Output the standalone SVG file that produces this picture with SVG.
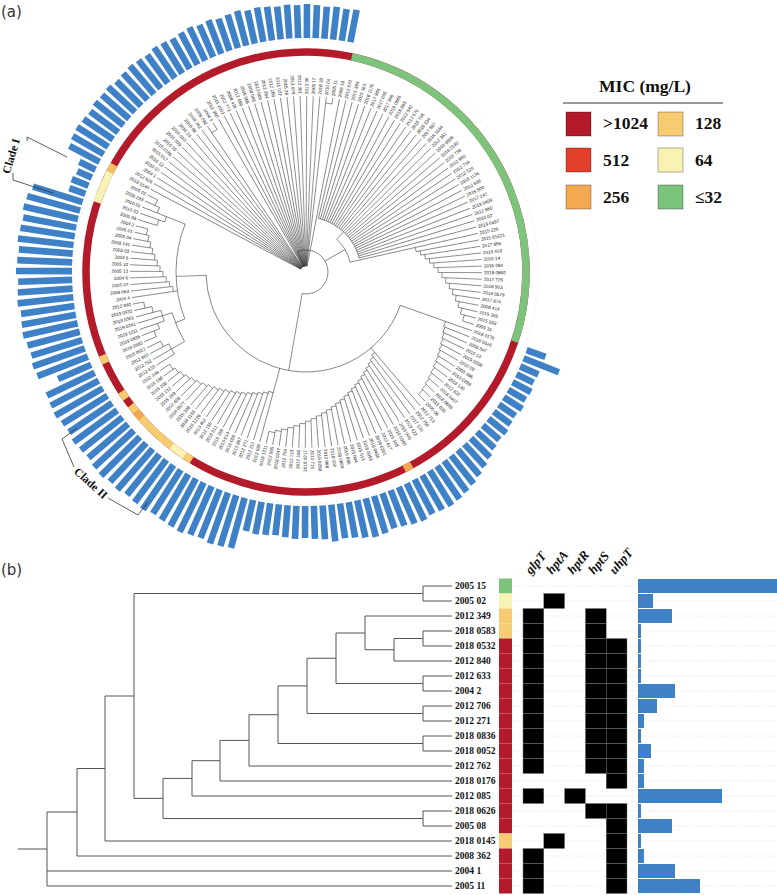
<svg xmlns="http://www.w3.org/2000/svg" width="777" height="895" viewBox="0 0 777 895">
<style>
.pa path,.pa circle.t{fill:none;stroke:#3a3a3a;stroke-width:.55}
.lf text{font-family:'Liberation Sans',Arial,sans-serif;font-size:4.6px;fill:#222;dominant-baseline:central}
.lf text.f{text-anchor:end}
.lf rect{fill:#3f81c7}
.ring{fill:none;stroke-width:7.5}
.tb{fill:none;stroke:#555;stroke-width:1}
.lb{font-family:'Liberation Serif','Times New Roman',serif;font-weight:bold;font-size:9.5px;fill:#111}
.mx{fill:#000;stroke:#777;stroke-width:.4}
.bb{fill:#3f81c7}
.hd{font-family:'Liberation Serif','Times New Roman',serif;font-weight:bold;font-style:italic;font-size:13px;fill:#111}
.lg{font-family:'Liberation Serif','Times New Roman',serif;font-weight:bold;font-size:17.5px;fill:#111}
.pl{font-family:'DejaVu Sans',sans-serif;font-size:15px;fill:#333}
.cl{font-family:'Liberation Serif','Times New Roman',serif;font-weight:bold;font-size:11.5px;fill:#111}
.br{fill:none;stroke:#333;stroke-width:.8}
.sw{stroke:rgba(0,0,0,.3);stroke-width:1}
.gd{stroke:#d8d8d8;stroke-width:.6;stroke-dasharray:1.5 1.5}
</style>
<rect width="777" height="895" fill="#fff"/>
<text class="pl" x="1" y="17">(a)</text>
<text class="pl" x="1" y="575">(b)</text>

<g id="panel-a" class="pa" transform="translate(306 272)">
<circle r="232" fill="none" stroke="#e6e6e6" stroke-width=".7" stroke-dasharray="2 2"/>
<g id="mic-ring">
<circle class="ring" r="220" stroke="#b31b2b"/>
<circle class="ring" r="220" stroke="#7cc47c" stroke-dasharray="370.3 2000" transform="rotate(-78)"/>
<circle class="ring" r="220" stroke="#f2a94f" stroke-dasharray="8.5 2000" transform="rotate(61.29)"/>
<circle class="ring" r="220" stroke="#f6cc72" stroke-dasharray="8.5 2000" transform="rotate(121.29)"/>
<circle class="ring" r="220" stroke="#f8f2b3" stroke-dasharray="16.7 2000" transform="rotate(123.43)"/>
<circle class="ring" r="220" stroke="#f6cc72" stroke-dasharray="41.4 2000" transform="rotate(127.71)"/>
<circle class="ring" r="220" stroke="#f2a94f" stroke-dasharray="8.5 2000" transform="rotate(138.43)"/>
<circle class="ring" r="220" stroke="#f6cc72" stroke-dasharray="8.5 2000" transform="rotate(140.57)"/>
<circle class="ring" r="220" stroke="#f6cc72" stroke-dasharray="8.5 2000" transform="rotate(144.86)"/>
<circle class="ring" r="220" stroke="#f6cc72" stroke-dasharray="8.5 2000" transform="rotate(155.57)"/>
<circle class="ring" r="220" stroke="#f8f2b3" stroke-dasharray="33.2 2000" transform="rotate(198.43)"/>
<circle class="ring" r="220" stroke="#f3bf62" stroke-dasharray="8.5 2000" transform="rotate(207)"/>
</g>
<g id="connectors-a">
<circle class="t" r="6" stroke-dasharray="7.63 99" transform="rotate(208.07)"/>
<path transform="rotate(248)" d="M6 0H22"/>
<circle class="t" r="22" stroke-dasharray="81.4 999" transform="rotate(-112)"/>
<path transform="rotate(-30)" d="M22 0H45"/>
<circle class="t" r="45" stroke-dasharray="26.93 999" transform="rotate(-46.93)"/>
<path transform="rotate(-46.93)" d="M45 0H55"/>
<circle class="t" r="55" stroke-dasharray="59.65 999" transform="rotate(-76.93)"/>
<path transform="rotate(100)" d="M22 0H100"/>
<circle class="t" r="100" stroke-dasharray="276.75 999" transform="rotate(19.5)"/>
<path transform="rotate(178.07)" d="M100 0H130"/>
<circle class="t" r="130" stroke-dasharray="97.22 999" transform="rotate(158.79)"/>
<path transform="rotate(158.79)" d="M130 0H140"/>
<circle class="t" r="140" stroke-dasharray="31.42 999" transform="rotate(150.21)"/>
</g>
<g id="leaves-a" class="lf">
<g id="a0" transform="rotate(-76.93)"><path d="M55 0H176"/><text x="178">2012 572</text></g>
<g id="a1" transform="rotate(-74.79)"><path d="M55 0H176"/><text x="178">2015 393</text></g>
<g id="a2" transform="rotate(-72.64)"><path d="M55 0H176"/><text x="178">2015 363</text></g>
<g id="a3" transform="rotate(-70.50)"><path d="M55 0H176"/><text x="178">2018 1176</text></g>
<g id="a4" transform="rotate(-68.36)"><path d="M55 0H176"/><text x="178">2017 989</text></g>
<g id="a5" transform="rotate(-66.21)"><path d="M55 0H176"/><text x="178">2017 085</text></g>
<g id="a6" transform="rotate(-64.07)"><path d="M55 0H176"/><text x="178">2017 986</text></g>
<g id="a7" transform="rotate(-61.93)"><path d="M55 0H176"/><text x="178">2019 0865</text></g>
<g id="a8" transform="rotate(-59.79)"><path d="M55 0H176"/><text x="178">2018 865</text></g>
<g id="a9" transform="rotate(-57.64)"><path d="M55 0H176"/><text x="178">2012 540</text></g>
<g id="a10" transform="rotate(-55.50)"><path d="M55 0H176"/><text x="178">2012 570</text></g>
<g id="a11" transform="rotate(-53.36)"><path d="M55 0H176"/><text x="178">2015 795</text></g>
<g id="a12" transform="rotate(-51.21)"><path d="M55 0H176"/><text x="178">2018 334</text></g>
<g id="a13" transform="rotate(-49.07)"><path d="M55 0H176"/><text x="178">2017 867</text></g>
<g id="a14" transform="rotate(-46.93)"><path d="M55 0H176"/><text x="178">2018 1164</text></g>
<g id="a15" transform="rotate(-44.79)"><path d="M55 0H176"/><text x="178">2012 361</text></g>
<g id="a16" transform="rotate(-42.64)"><path d="M55 0H176"/><text x="178">2018 0808</text></g>
<g id="a17" transform="rotate(-40.50)"><path d="M55 0H176"/><text x="178">2018 0140</text></g>
<g id="a18" transform="rotate(-38.36)"><path d="M55 0H176"/><text x="178">2018 739</text></g>
<g id="a19" transform="rotate(-36.21)"><path d="M55 0H176"/><text x="178">2012 980</text></g>
<g id="a20" transform="rotate(-34.07)"><path d="M55 0H176"/><text x="178">2012 734</text></g>
<g id="a21" transform="rotate(-31.93)"><path d="M55 0H176"/><text x="178">2012 526</text></g>
<g id="a22" transform="rotate(-29.79)"><path d="M55 0H176"/><text x="178">2018 1136</text></g>
<g id="a23" transform="rotate(-27.64)"><path d="M55 0H176"/><text x="178">2012 608</text></g>
<g id="a24" transform="rotate(-25.50)"><path d="M55 0H176"/><text x="178">2015 500</text></g>
<g id="a25" transform="rotate(-23.36)"><path d="M55 0H176"/><text x="178">2017 247</text></g>
<g id="a26" transform="rotate(-21.21)"><path d="M55 0H176"/><text x="178">2019 0409</text></g>
<g id="a27" transform="rotate(-19.07)"><path d="M55 0H176"/><text x="178">2012 860</text></g>
<g id="a28" transform="rotate(-16.93)"><path d="M55 0H176"/><text x="178">2010 02</text></g>
<g id="a29" transform="rotate(-14.79)"><path d="M55 0H176"/><text x="178">2019 0497</text></g>
<g id="a30" transform="rotate(-12.64)"><path d="M45 0H176"/><text x="178">2015 226</text></g>
<g id="a31" transform="rotate(-10.50)"><path d="M112 -4.2V0H176"/><text x="178">2015 01621</text></g>
<g id="a32" transform="rotate(-8.36)"><path d="M116 -4.3V0H176"/><text x="178">2017 856</text></g>
<g id="a33" transform="rotate(-6.21)"><path d="M120 -4.5V0H176"/><text x="178">2015 418</text></g>
<g id="a34" transform="rotate(-4.07)"><path d="M124 -4.6V0H176"/><text x="178">2010 14</text></g>
<g id="a35" transform="rotate(-1.93)"><path d="M128 -4.8V0H176"/><text x="178">2016 084</text></g>
<g id="a36" transform="rotate(0.21)"><path d="M132 -4.9V0H176"/><text x="178">2018 0860</text></g>
<g id="a37" transform="rotate(2.36)"><path d="M136 -5.1V0H176"/><text x="178">2017 726</text></g>
<g id="a38" transform="rotate(4.50)"><path d="M140 -5.2V0H176"/><text x="178">2018 903</text></g>
<g id="a39" transform="rotate(6.64)"><path d="M144 -5.4V0H176"/><text x="178">2019 0579</text></g>
<g id="a40" transform="rotate(8.79)"><path d="M148 -5.5V0H176"/><text x="178">2017 874</text></g>
<g id="a41" transform="rotate(10.93)"><path d="M152 -5.7V0H176"/><text x="178">2008 414</text></g>
<g id="a42" transform="rotate(13.07)"><path d="M156 -5.8V0H176"/><text x="178">2015 365</text></g>
<g id="a43" transform="rotate(15.21)"><path d="M160 -6V0H176"/><text x="178">2015 333</text></g>
<g id="a44" transform="rotate(17.36)"><path d="M164 -6.1V0H176"/><text x="178">2005 15</text></g>
<g id="a45" transform="rotate(19.50)"><path d="M100 0H176"/><text x="178">2018 0176</text><rect x="234" y="-3.3" width="20" height="6.6"/></g>
<g id="a46" transform="rotate(21.64)"><path d="M148 -5.5V0H176"/><text x="178">2018 0626</text><rect x="234" y="-3.3" width="38" height="6.6"/></g>
<g id="a47" transform="rotate(23.79)"><path d="M149.5 -5.6V0H176"/><text x="178">2008 347</text><rect x="234" y="-3.3" width="20" height="6.6"/></g>
<g id="a48" transform="rotate(25.93)"><path d="M151 -5.6V0H176"/><text x="178">2010 13</text><rect x="234" y="-3.3" width="19" height="6.6"/></g>
<g id="a49" transform="rotate(28.07)"><path d="M152.5 -5.7V0H176"/><text x="178">2019 0306</text><rect x="234" y="-3.3" width="21" height="6.6"/></g>
<g id="a50" transform="rotate(30.21)"><path d="M154 -5.8V0H176"/><text x="178">2010 09</text><rect x="234" y="-3.3" width="20" height="6.6"/></g>
<g id="a51" transform="rotate(32.36)"><path d="M155.5 -5.8V0H176"/><text x="178">2009 486</text><rect x="234" y="-3.3" width="22" height="6.6"/></g>
<g id="a52" transform="rotate(34.50)"><path d="M157 -5.9V0H176"/><text x="178">2010 0289</text><rect x="234" y="-3.3" width="20" height="6.6"/></g>
<g id="a53" transform="rotate(36.64)"><path d="M158.5 -5.9V0H176"/><text x="178">2019 130</text><rect x="234" y="-3.3" width="21" height="6.6"/></g>
<g id="a54" transform="rotate(38.79)"><path d="M160 -6V0H176"/><text x="178">2012 632</text><rect x="234" y="-3.3" width="23" height="6.6"/></g>
<g id="a55" transform="rotate(40.93)"><path d="M161.5 -6V0H176"/><text x="178">2018 0407</text><rect x="234" y="-3.3" width="22" height="6.6"/></g>
<g id="a56" transform="rotate(43.07)"><path d="M163 -6.1V0H176"/><text x="178">2018 0609</text><rect x="234" y="-3.3" width="24" height="6.6"/></g>
<g id="a57" transform="rotate(45.21)"><path d="M164.5 -6.2V0H176"/><text x="178">2015 030</text><rect x="234" y="-3.3" width="27" height="6.6"/></g>
<g id="a58" transform="rotate(47.36)"><path d="M166 -6.2V0H176"/><text x="178">2005 08</text><rect x="234" y="-3.3" width="30" height="6.6"/></g>
<g id="a59" transform="rotate(49.50)"><path d="M100 0H176"/><text x="178">2012 713</text><rect x="234" y="-3.3" width="33" height="6.6"/></g>
<g id="a60" transform="rotate(51.64)"><path d="M106 -4V0H176"/><text x="178">2012 702</text><rect x="234" y="-3.3" width="36" height="6.6"/></g>
<g id="a61" transform="rotate(53.79)"><path d="M108.4 -4.1V0H176"/><text x="178">2017 130</text><rect x="234" y="-3.3" width="38" height="6.6"/></g>
<g id="a62" transform="rotate(55.93)"><path d="M110.8 -4.1V0H176"/><text x="178">2019 422</text><rect x="234" y="-3.3" width="40" height="6.6"/></g>
<g id="a63" transform="rotate(58.07)"><path d="M113.2 -4.2V0H176"/><text x="178">2015 006</text><rect x="234" y="-3.3" width="41" height="6.6"/></g>
<g id="a64" transform="rotate(60.21)"><path d="M115.6 -4.3V0H176"/><text x="178">2019 0360</text><rect x="234" y="-3.3" width="40" height="6.6"/></g>
<g id="a65" transform="rotate(62.36)"><path d="M118 -4.4V0H176"/><text x="178">2015 168</text><rect x="234" y="-3.3" width="39" height="6.6"/></g>
<g id="a66" transform="rotate(64.50)"><path d="M120.4 -4.5V0H176"/><text x="178">2012 617</text><rect x="234" y="-3.3" width="41" height="6.6"/></g>
<g id="a67" transform="rotate(66.64)"><path d="M122.8 -4.6V0H176"/><text x="178">2019 0201</text><rect x="234" y="-3.3" width="40" height="6.6"/></g>
<g id="a68" transform="rotate(68.79)"><path d="M125.2 -4.7V0H176"/><text x="178">2018 0466</text><rect x="234" y="-3.3" width="38" height="6.6"/></g>
<g id="a69" transform="rotate(70.93)"><path d="M127.6 -4.8V0H176"/><text x="178">2018 0093</text><rect x="234" y="-3.3" width="37" height="6.6"/></g>
<g id="a70" transform="rotate(73.07)"><path d="M130 -4.9V0H176"/><text x="178">2015 013</text><rect x="234" y="-3.3" width="39" height="6.6"/></g>
<g id="a71" transform="rotate(75.21)"><path d="M132.4 -5V0H176"/><text x="178">2015 004</text><rect x="234" y="-3.3" width="40" height="6.6"/></g>
<g id="a72" transform="rotate(77.36)"><path d="M134.8 -5V0H176"/><text x="178">2015 096</text><rect x="234" y="-3.3" width="38" height="6.6"/></g>
<g id="a73" transform="rotate(79.50)"><path d="M137.2 -5.1V0H176"/><text x="178">2018 0869</text><rect x="234" y="-3.3" width="36" height="6.6"/></g>
<g id="a74" transform="rotate(81.64)"><path d="M139.6 -5.2V0H176"/><text x="178">2018 007</text><rect x="234" y="-3.3" width="35" height="6.6"/></g>
<g id="a75" transform="rotate(83.79)"><path d="M142 -5.3V0H176"/><text x="178">2012 868</text><rect x="234" y="-3.3" width="37" height="6.6"/></g>
<g id="a76" transform="rotate(85.93)"><path d="M144.4 -5.4V0H176"/><text x="178">2019 0280</text><rect x="234" y="-3.3" width="34" height="6.6"/></g>
<g id="a77" transform="rotate(88.07)"><path d="M146.8 -5.5V0H176"/><text x="178">2012 716</text><rect x="234" y="-3.3" width="33" height="6.6"/></g>
<g id="a78" transform="rotate(90.21)"><path d="M149.2 -5.6V0H176"/><text class="f" x="178" transform="rotate(180 178 0)">2018 0217</text><rect x="234" y="-3.3" width="32" height="6.6"/></g>
<g id="a79" transform="rotate(92.36)"><path d="M151.6 -5.7V0H176"/><text class="f" x="178" transform="rotate(180 178 0)">2017 180</text><rect x="234" y="-3.3" width="33" height="6.6"/></g>
<g id="a80" transform="rotate(94.50)"><path d="M154 -5.8V0H176"/><text class="f" x="178" transform="rotate(180 178 0)">2012 723</text><rect x="234" y="-3.3" width="32" height="6.6"/></g>
<g id="a81" transform="rotate(96.64)"><path d="M156.4 -5.8V0H176"/><text class="f" x="178" transform="rotate(180 178 0)">2012 764</text><rect x="234" y="-3.3" width="31" height="6.6"/></g>
<g id="a82" transform="rotate(98.79)"><path d="M158.8 -5.9V0H176"/><text class="f" x="178" transform="rotate(180 178 0)">2018 0247</text><rect x="234" y="-3.3" width="32" height="6.6"/></g>
<g id="a83" transform="rotate(100.93)"><path d="M161.2 -6V0H176"/><text class="f" x="178" transform="rotate(180 178 0)">2012 565</text><rect x="234" y="-3.3" width="33" height="6.6"/></g>
<g id="a84" transform="rotate(103.07)"><path d="M163.6 -6.1V0H176"/><text class="f" x="178" transform="rotate(180 178 0)">2016 1211</text><rect x="234" y="-3.3" width="32" height="6.6"/></g>
<g id="a85" transform="rotate(105.21)"><path d="M100 0H176"/><text class="f" x="178" transform="rotate(180 178 0)">2012 085</text><rect x="234" y="-3.3" width="52" height="6.6"/></g>
<g id="a86" transform="rotate(107.36)"><path d="M125 -4.7V0H176"/><text class="f" x="178" transform="rotate(180 178 0)">2012 211</text><rect x="234" y="-3.3" width="53" height="6.6"/></g>
<g id="a87" transform="rotate(109.50)"><path d="M127.2 -4.8V0H176"/><text class="f" x="178" transform="rotate(180 178 0)">2012 271</text><rect x="234" y="-3.3" width="54" height="6.6"/></g>
<g id="a88" transform="rotate(111.64)"><path d="M129.4 -4.8V0H176"/><text class="f" x="178" transform="rotate(180 178 0)">2012 867</text><rect x="234" y="-3.3" width="52" height="6.6"/></g>
<g id="a89" transform="rotate(113.79)"><path d="M131.6 -4.9V0H176"/><text class="f" x="178" transform="rotate(180 178 0)">2015 050</text><rect x="234" y="-3.3" width="53" height="6.6"/></g>
<g id="a90" transform="rotate(115.93)"><path d="M133.8 -5V0H176"/><text class="f" x="178" transform="rotate(180 178 0)">2015 014</text><rect x="234" y="-3.3" width="55" height="6.6"/></g>
<g id="a91" transform="rotate(118.07)"><path d="M136 -5.1V0H176"/><text class="f" x="178" transform="rotate(180 178 0)">2015 359</text><rect x="234" y="-3.3" width="54" height="6.6"/></g>
<g id="a92" transform="rotate(120.21)"><path d="M138.2 -5.2V0H176"/><text class="f" x="178" transform="rotate(180 178 0)">2015 011</text><rect x="234" y="-3.3" width="53" height="6.6"/></g>
<g id="a93" transform="rotate(122.36)"><path d="M140.4 -5.3V0H176"/><text class="f" x="178" transform="rotate(180 178 0)">2012 156</text><rect x="234" y="-3.3" width="52" height="6.6"/></g>
<g id="a94" transform="rotate(124.50)"><path d="M142.6 -5.3V0H176"/><text class="f" x="178" transform="rotate(180 178 0)">2013 402</text><rect x="234" y="-3.3" width="54" height="6.6"/></g>
<g id="a95" transform="rotate(126.64)"><path d="M144.8 -5.4V0H176"/><text class="f" x="178" transform="rotate(180 178 0)">2018 1226</text><rect x="234" y="-3.3" width="53" height="6.6"/></g>
<g id="a96" transform="rotate(128.79)"><path d="M147 -5.5V0H176"/><text class="f" x="178" transform="rotate(180 178 0)">2018 1155</text><rect x="234" y="-3.3" width="52" height="6.6"/></g>
<g id="a97" transform="rotate(130.93)"><path d="M149.2 -5.6V0H176"/><text class="f" x="178" transform="rotate(180 178 0)">2015 269</text><rect x="234" y="-3.3" width="54" height="6.6"/></g>
<g id="a98" transform="rotate(133.07)"><path d="M151.4 -5.7V0H176"/><text class="f" x="178" transform="rotate(180 178 0)">2018 0577</text><rect x="234" y="-3.3" width="53" height="6.6"/></g>
<g id="a99" transform="rotate(135.21)"><path d="M153.6 -5.7V0H176"/><text class="f" x="178" transform="rotate(180 178 0)">2012 406</text><rect x="234" y="-3.3" width="55" height="6.6"/></g>
<g id="a100" transform="rotate(137.36)"><path d="M155.8 -5.8V0H176"/><text class="f" x="178" transform="rotate(180 178 0)">2015 289</text><rect x="234" y="-3.3" width="54" height="6.6"/></g>
<g id="a101" transform="rotate(139.50)"><path d="M158 -5.9V0H176"/><text class="f" x="178" transform="rotate(180 178 0)">2015 212</text><rect x="234" y="-3.3" width="52" height="6.6"/></g>
<g id="a102" transform="rotate(141.64)"><path d="M160.2 -6V0H176"/><text class="f" x="178" transform="rotate(180 178 0)">2015 206</text><rect x="234" y="-3.3" width="53" height="6.6"/></g>
<g id="a103" transform="rotate(143.79)"><path d="M162.4 -6.1V0H176"/><text class="f" x="178" transform="rotate(180 178 0)">2015 196</text><rect x="234" y="-3.3" width="54" height="6.6"/></g>
<g id="a104" transform="rotate(145.93)"><path d="M164.6 -6.2V0H176"/><text class="f" x="178" transform="rotate(180 178 0)">2012 349</text><rect x="234" y="-3.3" width="52" height="6.6"/></g>
<g id="a105" transform="rotate(148.07)"><path d="M155 5.8V0H176"/><text class="f" x="178" transform="rotate(180 178 0)">2012 633</text><rect x="234" y="-3.3" width="53" height="6.6"/></g>
<g id="a106" transform="rotate(150.21)"><path d="M140 0H176"/><text class="f" x="178" transform="rotate(180 178 0)">2012 762</text><rect x="234" y="-3.3" width="55" height="6.6"/></g>
<g id="a107" transform="rotate(152.36)"><path d="M155 -5.8V0H176"/><text class="f" x="178" transform="rotate(180 178 0)">2012 803</text><rect x="234" y="-3.3" width="54" height="6.6"/></g>
<g id="a108" transform="rotate(154.50)"><path d="M161 -6V0H176"/><text class="f" x="178" transform="rotate(180 178 0)">2018 0022</text><rect x="234" y="-3.3" width="53" height="6.6"/></g>
<g id="a109" transform="rotate(156.64)"><path d="M163 6.1V0H176"/><text class="f" x="178" transform="rotate(180 178 0)">2018 0583</text><rect x="234" y="-3.3" width="36" height="6.6"/></g>
<g id="a110" transform="rotate(158.79)"><path d="M157 5.9V0H176"/><text class="f" x="178" transform="rotate(180 178 0)">2019 0836</text><rect x="234" y="-3.3" width="54" height="6.6"/></g>
<g id="a111" transform="rotate(160.93)"><path d="M150 5.6V0H176"/><text class="f" x="178" transform="rotate(180 178 0)">2019 0111</text><rect x="234" y="-3.3" width="55" height="6.6"/></g>
<g id="a112" transform="rotate(163.07)"><path d="M140 0H176"/><text class="f" x="178" transform="rotate(180 178 0)">2019 0241</text><rect x="234" y="-3.3" width="53" height="6.6"/></g>
<g id="a113" transform="rotate(165.21)"><path d="M150 -5.6V0H176"/><text class="f" x="178" transform="rotate(180 178 0)">2018 0301</text><rect x="234" y="-3.3" width="54" height="6.6"/></g>
<g id="a114" transform="rotate(167.36)"><path d="M158 -5.9V0H176"/><text class="f" x="178" transform="rotate(180 178 0)">2019 0832</text><rect x="234" y="-3.3" width="56" height="6.6"/></g>
<g id="a115" transform="rotate(169.50)"><path d="M165 -6.2V0H176"/><text class="f" x="178" transform="rotate(180 178 0)">2012 840</text><rect x="234" y="-3.3" width="55" height="6.6"/></g>
<g id="a116" transform="rotate(171.64)"><path d="M130 0H176"/><text class="f" x="178" transform="rotate(180 178 0)">2004 4</text><rect x="234" y="-3.3" width="54" height="6.6"/></g>
<g id="a117" transform="rotate(173.79)"><path d="M134 -5V0H176"/><text class="f" x="178" transform="rotate(180 178 0)">2009 063</text><rect x="234" y="-3.3" width="56" height="6.6"/></g>
<g id="a118" transform="rotate(175.93)"><path d="M137 -5.1V0H176"/><text class="f" x="178" transform="rotate(180 178 0)">2005 07</text><rect x="234" y="-3.3" width="55" height="6.6"/></g>
<g id="a119" transform="rotate(178.07)"><path d="M140 -5.2V0H176"/><text class="f" x="178" transform="rotate(180 178 0)">2004 6</text><rect x="234" y="-3.3" width="54" height="6.6"/></g>
<g id="a120" transform="rotate(180.21)"><path d="M143 -5.3V0H176"/><text class="f" x="178" transform="rotate(180 178 0)">2005 13</text><rect x="234" y="-3.3" width="56" height="6.6"/></g>
<g id="a121" transform="rotate(182.36)"><path d="M146 -5.5V0H176"/><text class="f" x="178" transform="rotate(180 178 0)">2005 10</text><rect x="234" y="-3.3" width="55" height="6.6"/></g>
<g id="a122" transform="rotate(184.50)"><path d="M149 -5.6V0H176"/><text class="f" x="178" transform="rotate(180 178 0)">2004 5</text><rect x="234" y="-3.3" width="54" height="6.6"/></g>
<g id="a123" transform="rotate(186.64)"><path d="M152 -5.7V0H176"/><text class="f" x="178" transform="rotate(180 178 0)">2005 03</text><rect x="234" y="-3.3" width="56" height="6.6"/></g>
<g id="a124" transform="rotate(188.79)"><path d="M155 -5.8V0H176"/><text class="f" x="178" transform="rotate(180 178 0)">2008 141</text><rect x="234" y="-3.3" width="55" height="6.6"/></g>
<g id="a125" transform="rotate(190.93)"><path d="M158 -5.9V0H176"/><text class="f" x="178" transform="rotate(180 178 0)">2005 04</text><rect x="234" y="-3.3" width="54" height="6.6"/></g>
<g id="a126" transform="rotate(193.07)"><path d="M161 -6V0H176"/><text class="f" x="178" transform="rotate(180 178 0)">2005 01</text><rect x="234" y="-3.3" width="56" height="6.6"/></g>
<g id="a127" transform="rotate(195.21)"><path d="M164 -6.1V0H176"/><text class="f" x="178" transform="rotate(180 178 0)">2004 2</text><rect x="234" y="-3.3" width="55" height="6.6"/></g>
<g id="a128" transform="rotate(197.36)"><path d="M156 5.8V0H176"/><text class="f" x="178" transform="rotate(180 178 0)">2005 06</text><rect x="234" y="-3.3" width="52" height="6.6"/></g>
<g id="a129" transform="rotate(199.50)"><path d="M150 5.6V0H176"/><text class="f" x="178" transform="rotate(180 178 0)">2010 03</text><rect x="234" y="-3.3" width="17" height="6.6"/></g>
<g id="a130" transform="rotate(201.64)"><path d="M130 0H176"/><text class="f" x="178" transform="rotate(180 178 0)">2010 01</text><rect x="234" y="-3.3" width="18" height="6.6"/></g>
<g id="a131" transform="rotate(203.79)"><path d="M160 -6V0H176"/><text class="f" x="178" transform="rotate(180 178 0)">2008 233</text><rect x="234" y="-3.3" width="16" height="6.6"/></g>
<g id="a132" transform="rotate(205.93)"><path d="M165 -6.2V0H176"/><text class="f" x="178" transform="rotate(180 178 0)">2005 02</text><rect x="234" y="-3.3" width="18" height="6.6"/></g>
<g id="a133" transform="rotate(208.07)"><path d="M6 0H176"/><text class="f" x="178" transform="rotate(180 178 0)">2018 0145</text><rect x="234" y="-3.3" width="34" height="6.6"/></g>
<g id="a134" transform="rotate(210.21)"><path d="M6 0H176"/><text class="f" x="178" transform="rotate(180 178 0)">2012 826</text><rect x="234" y="-3.3" width="36" height="6.6"/></g>
<g id="a135" transform="rotate(212.36)"><path d="M6 0H176"/><text class="f" x="178" transform="rotate(180 178 0)">2004 1</text><rect x="234" y="-3.3" width="37" height="6.6"/></g>
<g id="a136" transform="rotate(214.50)"><path d="M6 0H176"/><text class="f" x="178" transform="rotate(180 178 0)">2010 07</text><rect x="234" y="-3.3" width="36" height="6.6"/></g>
<g id="a137" transform="rotate(216.64)"><path d="M6 0H176"/><text class="f" x="178" transform="rotate(180 178 0)">2010 12</text><rect x="234" y="-3.3" width="35" height="6.6"/></g>
<g id="a138" transform="rotate(218.79)"><path d="M6 0H176"/><text class="f" x="178" transform="rotate(180 178 0)">2015 017</text><rect x="234" y="-3.3" width="37" height="6.6"/></g>
<g id="a139" transform="rotate(220.93)"><path d="M6 0H176"/><text class="f" x="178" transform="rotate(180 178 0)">2015 0186</text><rect x="234" y="-3.3" width="36" height="6.6"/></g>
<g id="a140" transform="rotate(223.07)"><path d="M6 0H176"/><text class="f" x="178" transform="rotate(180 178 0)">2010 10</text><rect x="234" y="-3.3" width="37" height="6.6"/></g>
<g id="a141" transform="rotate(225.21)"><path d="M6 0H176"/><text class="f" x="178" transform="rotate(180 178 0)">2015 509</text><rect x="234" y="-3.3" width="35" height="6.6"/></g>
<g id="a142" transform="rotate(227.36)"><path d="M6 0H176"/><text class="f" x="178" transform="rotate(180 178 0)">2015 010</text><rect x="234" y="-3.3" width="36" height="6.6"/></g>
<g id="a143" transform="rotate(229.50)"><path d="M6 0H176"/><text class="f" x="178" transform="rotate(180 178 0)">2010 23</text><rect x="234" y="-3.3" width="37" height="6.6"/></g>
<g id="a144" transform="rotate(231.64)"><path d="M6 0H176"/><text class="f" x="178" transform="rotate(180 178 0)">2010 08</text><rect x="234" y="-3.3" width="36" height="6.6"/></g>
<g id="a145" transform="rotate(233.79)"><path d="M6 0H176"/><text class="f" x="178" transform="rotate(180 178 0)">2008 362</text><rect x="234" y="-3.3" width="35" height="6.6"/></g>
<g id="a146" transform="rotate(235.93)"><path d="M6 0H176"/><text class="f" x="178" transform="rotate(180 178 0)">2008 082</text><rect x="234" y="-3.3" width="37" height="6.6"/></g>
<g id="a147" transform="rotate(238.07)"><path d="M168 -6.3V0H176"/><text class="f" x="178" transform="rotate(180 178 0)">2004 3</text><rect x="234" y="-3.3" width="36" height="6.6"/></g>
<g id="a148" transform="rotate(240.21)"><path d="M6 0H176"/><text class="f" x="178" transform="rotate(180 178 0)">2012 360</text><rect x="234" y="-3.3" width="35" height="6.6"/></g>
<g id="a149" transform="rotate(242.36)"><path d="M6 0H176"/><text class="f" x="178" transform="rotate(180 178 0)">2015 1001</text><rect x="234" y="-3.3" width="36" height="6.6"/></g>
<g id="a150" transform="rotate(244.50)"><path d="M6 0H176"/><text class="f" x="178" transform="rotate(180 178 0)">2012 773</text><rect x="234" y="-3.3" width="37" height="6.6"/></g>
<g id="a151" transform="rotate(246.64)"><path d="M6 0H176"/><text class="f" x="178" transform="rotate(180 178 0)">2008 416</text><rect x="234" y="-3.3" width="35" height="6.6"/></g>
<g id="a152" transform="rotate(248.79)"><path d="M6 0H176"/><text class="f" x="178" transform="rotate(180 178 0)">2012 080</text><rect x="234" y="-3.3" width="36" height="6.6"/></g>
<g id="a153" transform="rotate(250.93)"><path d="M6 0H176"/><text class="f" x="178" transform="rotate(180 178 0)">2009 066</text><rect x="234" y="-3.3" width="34" height="6.6"/></g>
<g id="a154" transform="rotate(253.07)"><path d="M6 0H176"/><text class="f" x="178" transform="rotate(180 178 0)">2009 068</text><rect x="234" y="-3.3" width="35" height="6.6"/></g>
<g id="a155" transform="rotate(255.21)"><path d="M6 0H176"/><text class="f" x="178" transform="rotate(180 178 0)">2013 008</text><rect x="234" y="-3.3" width="36" height="6.6"/></g>
<g id="a156" transform="rotate(257.36)"><path d="M6 0H176"/><text class="f" x="178" transform="rotate(180 178 0)">2012 284</text><rect x="234" y="-3.3" width="34" height="6.6"/></g>
<g id="a157" transform="rotate(259.50)"><path d="M6 0H176"/><text class="f" x="178" transform="rotate(180 178 0)">2012 289</text><rect x="234" y="-3.3" width="35" height="6.6"/></g>
<g id="a158" transform="rotate(261.64)"><path d="M6 0H176"/><text class="f" x="178" transform="rotate(180 178 0)">2015 027</text><rect x="234" y="-3.3" width="34" height="6.6"/></g>
<g id="a159" transform="rotate(263.79)"><path d="M6 0H176"/><text class="f" x="178" transform="rotate(180 178 0)">2015 26</text><rect x="234" y="-3.3" width="33" height="6.6"/></g>
<g id="a160" transform="rotate(265.93)"><path d="M6 0H176"/><text class="f" x="178" transform="rotate(180 178 0)">2013 079</text><rect x="234" y="-3.3" width="34" height="6.6"/></g>
<g id="a161" transform="rotate(268.07)"><path d="M6 0H176"/><text class="f" x="178" transform="rotate(180 178 0)">2012 301</text><rect x="234" y="-3.3" width="33" height="6.6"/></g>
<g id="a162" transform="rotate(270.21)"><path d="M6 0H176"/><text x="178">2013 06</text><rect x="234" y="-3.3" width="34" height="6.6"/></g>
<g id="a163" transform="rotate(272.36)"><path d="M6 0H176"/><text x="178">2005 17</text><rect x="234" y="-3.3" width="33" height="6.6"/></g>
<g id="a164" transform="rotate(274.50)"><path d="M6 0H176"/><text x="178">2018 18</text><rect x="234" y="-3.3" width="32" height="6.6"/></g>
<g id="a165" transform="rotate(276.64)"><path d="M6 0H176"/><text x="178">2010 04</text><rect x="234" y="-3.3" width="33" height="6.6"/></g>
<g id="a166" transform="rotate(278.79)"><path d="M170 -6.4V0H176"/><text x="178">2005 11</text><rect x="234" y="-3.3" width="32" height="6.6"/></g>
<g id="a167" transform="rotate(280.93)"><path d="M6 0H176"/><text x="178">2005 16</text><rect x="234" y="-3.3" width="33" height="6.6"/></g>
</g>
</g>

<g id="clade-I">
<path class="br" d="M67 157L27 137L27 141M13 173L13 180L53 193"/>
<text class="cl" text-anchor="middle" dominant-baseline="central" transform="translate(11 156) rotate(-73)">Clade I</text>
</g>
<g id="clade-II">
<path class="br" d="M77 428L62 439L74 467M108 498L138 515L148 502"/>
<text class="cl" text-anchor="middle" dominant-baseline="central" transform="translate(91 483) rotate(42)">Clade II</text>
</g>

<g id="legend">
<text class="lg" x="645" y="92" text-anchor="middle" font-size="18">MIC (mg/L)</text>
<path d="M563 103H723" stroke="#777" stroke-width="1.3"/>
<rect class="sw" x="566" y="112" width="25" height="24" fill="#b31b2b"/>
<rect class="sw" x="566" y="148" width="25" height="24" fill="#e2402a"/>
<rect class="sw" x="566" y="185" width="25" height="24" fill="#f2a94f"/>
<rect class="sw" x="658" y="112" width="25" height="24" fill="#f6cc72"/>
<rect class="sw" x="658" y="148" width="25" height="24" fill="#f8f2b3"/>
<rect class="sw" x="658" y="185" width="25" height="24" fill="#7cc47c"/>
<text class="lg" x="603" y="129">&gt;1024</text>
<text class="lg" x="603" y="166">512</text>
<text class="lg" x="603" y="203">256</text>
<text class="lg" x="695" y="129">128</text>
<text class="lg" x="695" y="166">64</text>
<text class="lg" x="695" y="203">≤32</text>
</g>

<g id="headers-b">
<text class="hd" transform="translate(531 575) rotate(-50)">glpT</text>
<text class="hd" transform="translate(552 575) rotate(-50)">hptA</text>
<text class="hd" transform="translate(573 575) rotate(-50)">hptR</text>
<text class="hd" transform="translate(594 575) rotate(-50)">hptS</text>
<text class="hd" transform="translate(615 575) rotate(-50)">uhpT</text>
</g>

<g id="guides-b">
<path class="gd" d="M513 586H777M513 601H777M513 616H777M513 631H777M513 646H777M513 661H777M513 676H777M513 691H777M513 706H777M513 721H777M513 736H777M513 751H777M513 766H777M513 781H777M513 796H777M513 811H777M513 826H777M513 841H777M513 856H777M513 871H777M513 886H777"/>
</g>

<g id="connectors-b">
<path class="tb" d="M18 849H47M47 812V886M47 812H77M47 871H452M47 886H452M77 768.5V856M77 768.5H105M77 856H452M105 696V841M105 696H134M105 841H452M134 593.5V798.4M134 593.5H423M134 798.4H163M423 586V601M423 586H452M423 601H452M163 778.4V818.5M163 778.4H192M163 818.5H423M423 811V826M423 811H452M423 826H452M192 760.7V796M192 760.7H220M192 796H452M220 740.4V781M220 740.4H249M220 781H452M249 714.7V766M249 714.7H278M249 766H452M278 685.9V743.5M278 685.9H307M278 743.5H423M423 736V751M423 736H452M423 751H452M307 658.25V713.5M307 658.25H336M307 713.5H423M423 706V721M423 706H452M423 721H452M336 633V683.5M336 633H365M336 683.5H423M423 676V691M423 676H452M423 691H452M365 616V649.75M365 616H452M365 649.75H394M394 638.5V661M394 638.5H423M394 661H452M423 631V646M423 631H452M423 646H452"/>
</g>

<g id="rows-b">
<g id="b0"><text class="lb" x="455" y="589.3">2005 15</text><rect x="499" y="578.5" width="13" height="15" fill="#7cc47c"/><rect class="bb" x="638" y="579" width="139" height="14"/></g>
<g id="b1"><text class="lb" x="455" y="604.3">2005 02</text><rect x="499" y="593.5" width="13" height="15" fill="#f8f2b3"/><rect class="mx" x="543.8" y="593.5" width="20.8" height="15"/><rect class="bb" x="638" y="594" width="15" height="14"/></g>
<g id="b2"><text class="lb" x="455" y="619.3">2012 349</text><rect x="499" y="608.5" width="13" height="15" fill="#f6cc72"/><rect class="mx" x="523" y="608.5" width="20.8" height="15"/><rect class="mx" x="585.4" y="608.5" width="20.8" height="15"/><rect class="bb" x="638" y="609" width="34" height="14"/></g>
<g id="b3"><text class="lb" x="455" y="634.3">2018 0583</text><rect x="499" y="623.5" width="13" height="15" fill="#f6cc72"/><rect class="mx" x="523" y="623.5" width="20.8" height="15"/><rect class="mx" x="585.4" y="623.5" width="20.8" height="15"/><rect class="bb" x="638" y="624" width="3" height="14"/></g>
<g id="b4"><text class="lb" x="455" y="649.3">2018 0532</text><rect x="499" y="638.5" width="13" height="15" fill="#b31b2b"/><rect class="mx" x="523" y="638.5" width="20.8" height="15"/><rect class="mx" x="585.4" y="638.5" width="20.8" height="15"/><rect class="mx" x="606.2" y="638.5" width="20.8" height="15"/><rect class="bb" x="638" y="639" width="3" height="14"/></g>
<g id="b5"><text class="lb" x="455" y="664.3">2012 840</text><rect x="499" y="653.5" width="13" height="15" fill="#b31b2b"/><rect class="mx" x="523" y="653.5" width="20.8" height="15"/><rect class="mx" x="585.4" y="653.5" width="20.8" height="15"/><rect class="mx" x="606.2" y="653.5" width="20.8" height="15"/><rect class="bb" x="638" y="654" width="3" height="14"/></g>
<g id="b6"><text class="lb" x="455" y="679.3">2012 633</text><rect x="499" y="668.5" width="13" height="15" fill="#b31b2b"/><rect class="mx" x="523" y="668.5" width="20.8" height="15"/><rect class="mx" x="585.4" y="668.5" width="20.8" height="15"/><rect class="mx" x="606.2" y="668.5" width="20.8" height="15"/><rect class="bb" x="638" y="669" width="3" height="14"/></g>
<g id="b7"><text class="lb" x="455" y="694.3">2004 2</text><rect x="499" y="683.5" width="13" height="15" fill="#b31b2b"/><rect class="mx" x="523" y="683.5" width="20.8" height="15"/><rect class="mx" x="585.4" y="683.5" width="20.8" height="15"/><rect class="mx" x="606.2" y="683.5" width="20.8" height="15"/><rect class="bb" x="638" y="684" width="37" height="14"/></g>
<g id="b8"><text class="lb" x="455" y="709.3">2012 706</text><rect x="499" y="698.5" width="13" height="15" fill="#b31b2b"/><rect class="mx" x="523" y="698.5" width="20.8" height="15"/><rect class="mx" x="585.4" y="698.5" width="20.8" height="15"/><rect class="mx" x="606.2" y="698.5" width="20.8" height="15"/><rect class="bb" x="638" y="699" width="19" height="14"/></g>
<g id="b9"><text class="lb" x="455" y="724.3">2012 271</text><rect x="499" y="713.5" width="13" height="15" fill="#b31b2b"/><rect class="mx" x="523" y="713.5" width="20.8" height="15"/><rect class="mx" x="585.4" y="713.5" width="20.8" height="15"/><rect class="mx" x="606.2" y="713.5" width="20.8" height="15"/><rect class="bb" x="638" y="714" width="6" height="14"/></g>
<g id="b10"><text class="lb" x="455" y="739.3">2018 0836</text><rect x="499" y="728.5" width="13" height="15" fill="#b31b2b"/><rect class="mx" x="523" y="728.5" width="20.8" height="15"/><rect class="mx" x="585.4" y="728.5" width="20.8" height="15"/><rect class="mx" x="606.2" y="728.5" width="20.8" height="15"/><rect class="bb" x="638" y="729" width="3" height="14"/></g>
<g id="b11"><text class="lb" x="455" y="754.3">2018 0052</text><rect x="499" y="743.5" width="13" height="15" fill="#b31b2b"/><rect class="mx" x="523" y="743.5" width="20.8" height="15"/><rect class="mx" x="585.4" y="743.5" width="20.8" height="15"/><rect class="mx" x="606.2" y="743.5" width="20.8" height="15"/><rect class="bb" x="638" y="744" width="13" height="14"/></g>
<g id="b12"><text class="lb" x="455" y="769.3">2012 762</text><rect x="499" y="758.5" width="13" height="15" fill="#b31b2b"/><rect class="mx" x="523" y="758.5" width="20.8" height="15"/><rect class="mx" x="585.4" y="758.5" width="20.8" height="15"/><rect class="mx" x="606.2" y="758.5" width="20.8" height="15"/><rect class="bb" x="638" y="759" width="6" height="14"/></g>
<g id="b13"><text class="lb" x="455" y="784.3">2018 0176</text><rect x="499" y="773.5" width="13" height="15" fill="#b31b2b"/><rect class="mx" x="606.2" y="773.5" width="20.8" height="15"/><rect class="bb" x="638" y="774" width="6" height="14"/></g>
<g id="b14"><text class="lb" x="455" y="799.3">2012 085</text><rect x="499" y="788.5" width="13" height="15" fill="#b31b2b"/><rect class="mx" x="523" y="788.5" width="20.8" height="15"/><rect class="mx" x="564.6" y="788.5" width="20.8" height="15"/><rect class="bb" x="638" y="789" width="84" height="14"/></g>
<g id="b15"><text class="lb" x="455" y="814.3">2018 0626</text><rect x="499" y="803.5" width="13" height="15" fill="#b31b2b"/><rect class="mx" x="585.4" y="803.5" width="20.8" height="15"/><rect class="mx" x="606.2" y="803.5" width="20.8" height="15"/><rect class="bb" x="638" y="804" width="3" height="14"/></g>
<g id="b16"><text class="lb" x="455" y="829.3">2005 08</text><rect x="499" y="818.5" width="13" height="15" fill="#b31b2b"/><rect class="mx" x="606.2" y="818.5" width="20.8" height="15"/><rect class="bb" x="638" y="819" width="34" height="14"/></g>
<g id="b17"><text class="lb" x="455" y="844.3">2018 0145</text><rect x="499" y="833.5" width="13" height="15" fill="#f6cc72"/><rect class="mx" x="543.8" y="833.5" width="20.8" height="15"/><rect class="mx" x="606.2" y="833.5" width="20.8" height="15"/><rect class="bb" x="638" y="834" width="3" height="14"/></g>
<g id="b18"><text class="lb" x="455" y="859.3">2008 362</text><rect x="499" y="848.5" width="13" height="15" fill="#b31b2b"/><rect class="mx" x="523" y="848.5" width="20.8" height="15"/><rect class="mx" x="606.2" y="848.5" width="20.8" height="15"/><rect class="bb" x="638" y="849" width="6" height="14"/></g>
<g id="b19"><text class="lb" x="455" y="874.3">2004 1</text><rect x="499" y="863.5" width="13" height="15" fill="#b31b2b"/><rect class="mx" x="523" y="863.5" width="20.8" height="15"/><rect class="mx" x="606.2" y="863.5" width="20.8" height="15"/><rect class="bb" x="638" y="864" width="37" height="14"/></g>
<g id="b20"><text class="lb" x="455" y="889.3">2005 11</text><rect x="499" y="878.5" width="13" height="15" fill="#b31b2b"/><rect class="mx" x="523" y="878.5" width="20.8" height="15"/><rect class="mx" x="606.2" y="878.5" width="20.8" height="15"/><rect class="bb" x="638" y="879" width="62" height="14"/></g>
</g>
</svg>
